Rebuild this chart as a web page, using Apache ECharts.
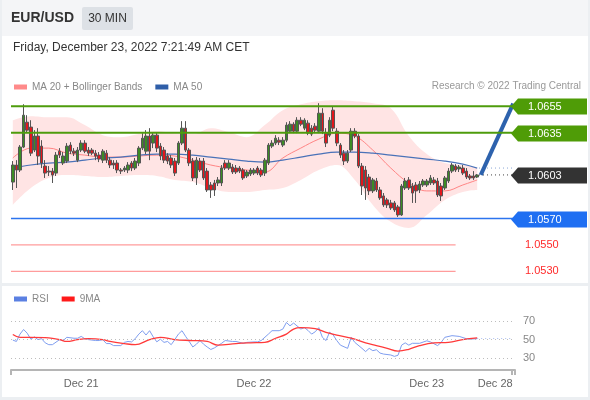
<!DOCTYPE html>
<html>
<head>
<meta charset="utf-8">
<script src="https://cdn.jsdelivr.net/npm/echarts@6/dist/echarts.min.js"></script>
<style>
  html, body { margin: 0; padding: 0; background: #fff; }
  #chart { width: 590px; height: 400px; }
</style>
</head>
<body>
<div id="chart"></div>
<script>
// 30 min candles, Dec 20 14:30 -> Dec 23 07:00  [open, close, low, high]
const candles = [
  [1.05976,1.06105,1.05916,1.06135],[1.06105,1.06067,1.05931,1.06142],[1.06067,1.06241,1.06052,1.06256],
  [1.06241,1.06482,1.06233,1.06565],[1.06429,1.06369,1.06354,1.06482],[1.06392,1.06195,1.06173,1.06444],
  [1.06218,1.06324,1.06203,1.06369],[1.06324,1.06173,1.06105,1.06384],[1.06248,1.06120,1.06082,1.06293],
  [1.06097,1.06044,1.06007,1.06142],[1.06059,1.06052,1.06022,1.06097],[1.06059,1.06029,1.05969,1.06082],
  [1.06044,1.06180,1.06022,1.06203],[1.06210,1.06180,1.06158,1.06233],[1.06120,1.06173,1.06105,1.06203],
  [1.06135,1.06248,1.06120,1.06271],[1.06256,1.06210,1.06188,1.06278],[1.06210,1.06195,1.06173,1.06233],
  [1.06142,1.06218,1.06127,1.06241],[1.06218,1.06271,1.06203,1.06293],[1.06271,1.06210,1.06195,1.06293],
  [1.06218,1.06195,1.06173,1.06241],[1.06218,1.06195,1.06180,1.06233],[1.06195,1.06173,1.06142,1.06218],
  [1.06180,1.06150,1.06127,1.06203],[1.06142,1.06210,1.06120,1.06225],[1.06195,1.06142,1.06120,1.06218],
  [1.06142,1.06105,1.06082,1.06165],[1.06120,1.06105,1.06075,1.06142],[1.06120,1.06067,1.06044,1.06142],
  [1.06067,1.06059,1.06037,1.06082],[1.06067,1.06082,1.06052,1.06097],[1.06067,1.06105,1.06044,1.06127],
  [1.06120,1.06082,1.06059,1.06135],[1.06082,1.06135,1.06067,1.06158],[1.06120,1.06233,1.06097,1.06248],
  [1.06233,1.06308,1.06218,1.06346],[1.06210,1.06324,1.06188,1.06369],[1.06324,1.06210,1.06142,1.06384],
  [1.06271,1.06331,1.06233,1.06354],[1.06331,1.06233,1.06203,1.06354],[1.06248,1.06173,1.06142,1.06271],
  [1.06218,1.06142,1.06120,1.06241],[1.06173,1.06135,1.06112,1.06195],[1.06158,1.06105,1.06082,1.06180],
  [1.06135,1.06044,1.06022,1.06158],[1.06120,1.06271,1.06105,1.06286],[1.06271,1.06384,1.06256,1.06437],
  [1.06384,1.06218,1.06203,1.06437],[1.06218,1.06120,1.06097,1.06233],[1.06135,1.06007,1.05984,1.06158],
  [1.06007,1.06142,1.05954,1.06165],[1.06135,1.06067,1.06052,1.06158],[1.06135,1.06007,1.05992,1.06158],
  [1.06059,1.05916,1.05901,1.06082],[1.05954,1.05916,1.05856,1.05976],[1.05969,1.05916,1.05871,1.05992],
  [1.05969,1.05992,1.05946,1.06014],[1.05969,1.06082,1.05946,1.06105],[1.06120,1.06082,1.06067,1.06142],
  [1.06082,1.06120,1.06067,1.06142],[1.06090,1.06052,1.06037,1.06112],[1.06082,1.06052,1.06037,1.06105],
  [1.06082,1.06059,1.06044,1.06097],[1.06067,1.06007,1.05992,1.06082],[1.06022,1.06052,1.06007,1.06067],
  [1.06037,1.06067,1.06022,1.06082],[1.06044,1.06067,1.06029,1.06082],[1.06082,1.06044,1.06029,1.06097],
  [1.06067,1.06029,1.06014,1.06082],[1.06044,1.06142,1.06022,1.06158],[1.06120,1.06256,1.06105,1.06271],
  [1.06248,1.06271,1.06233,1.06293],[1.06271,1.06308,1.06256,1.06331],[1.06293,1.06278,1.06256,1.06316],
  [1.06256,1.06293,1.06241,1.06316],[1.06293,1.06407,1.06278,1.06429],[1.06361,1.06414,1.06346,1.06437],
  [1.06414,1.06361,1.06346,1.06429],[1.06361,1.06444,1.06346,1.06467],[1.06444,1.06414,1.06399,1.06467],
  [1.06384,1.06444,1.06369,1.06459],[1.06422,1.06346,1.06331,1.06444],[1.06384,1.06339,1.06324,1.06407],
  [1.06399,1.06369,1.06346,1.06422],[1.06361,1.06497,1.06346,1.06573],[1.06497,1.06361,1.06339,1.06535],
  [1.06346,1.06271,1.06241,1.06384],[1.06331,1.06444,1.06316,1.06467],[1.06520,1.06384,1.06361,1.06550],
  [1.06361,1.06271,1.06248,1.06384],[1.06256,1.06180,1.06158,1.06271],[1.06195,1.06135,1.06105,1.06218],
  [1.06135,1.06195,1.06120,1.06218],[1.06218,1.06361,1.06203,1.06384],[1.06361,1.06324,1.06308,1.06384],
  [1.06324,1.06097,1.06082,1.06339],[1.06097,1.05946,1.05878,1.06120],[1.06067,1.05931,1.05841,1.06097],
  [1.06014,1.05909,1.05878,1.06037],[1.05909,1.05992,1.05893,1.06007],[1.05984,1.05916,1.05901,1.06007],
  [1.05916,1.05856,1.05841,1.05939],[1.05871,1.05803,1.05788,1.05893],[1.05841,1.05803,1.05780,1.05856],
  [1.05818,1.05780,1.05765,1.05841],[1.05818,1.05765,1.05750,1.05833],[1.05788,1.05727,1.05712,1.05803],
  [1.05727,1.05946,1.05720,1.05961],[1.05931,1.05984,1.05916,1.06007],[1.05992,1.05931,1.05916,1.06014],
  [1.05946,1.05893,1.05818,1.05969],[1.05954,1.05909,1.05818,1.05976],[1.05916,1.05961,1.05893,1.05984],
  [1.05954,1.05984,1.05939,1.05999],[1.05954,1.05984,1.05939,1.05999],[1.05969,1.06007,1.05954,1.06029],
  [1.05992,1.05969,1.05954,1.06014],[1.05984,1.05878,1.05863,1.06007],[1.05946,1.05871,1.05833,1.05969],
  [1.05931,1.06007,1.05916,1.06022],[1.05984,1.06059,1.05969,1.06082],[1.06059,1.06105,1.06044,1.06120],
  [1.06097,1.06067,1.06052,1.06112],[1.06075,1.06090,1.06052,1.06105],[1.06082,1.06044,1.06029,1.06105],
  [1.06059,1.06014,1.05999,1.06082],[1.06022,1.06007,1.05992,1.06037],[1.06022,1.06007,1.05992,1.06059],
  [1.06014,1.06030,1.06007,1.06037]
];

// indicator points (candle index -> value)
const bandIdx   = [0,5,10,15,20,25,30,35,40,45,50,55,60,65,70,75,80,85,90,95,100,105,110,115,120,125,129];
const bandUpper = [1.06444,1.06475,1.06467,1.06467,1.06407,1.06331,1.06316,1.06339,1.06361,1.06346,1.06339,1.06384,1.06354,
                   1.06316,1.06407,1.06520,1.06565,1.06588,1.06595,1.06588,1.06573,1.06535,1.06324,1.06188,1.06120,1.06105,1.06082];
const bandLower = [1.05803,1.05931,1.06007,1.06029,1.06022,1.06014,1.06022,1.06029,1.06022,1.05992,1.05976,1.05931,1.05901,
                   1.05901,1.05916,1.05931,1.05992,1.06067,1.06105,1.05992,1.05803,1.05675,1.05629,1.05727,1.05841,1.05901,1.05916];
const ma20 = [1.06158,1.06233,1.06233,1.06195,1.06180,1.06165,1.06165,1.06173,1.06180,1.06173,1.06142,1.06105,1.06082,1.06067,
              1.06052,1.06158,1.06233,1.06301,1.06346,1.06324,1.06218,1.06082,1.05969,1.05909,1.05909,1.05954,1.05992];
const ma50 = [1.06082,1.06105,1.06120,1.06127,1.06142,1.06158,1.06165,1.06180,1.06188,1.06188,1.06180,1.06165,1.06150,1.06135,
              1.06127,1.06142,1.06165,1.06188,1.06203,1.06203,1.06195,1.06180,1.06165,1.06150,1.06135,1.06112,1.06082];

const rsiIdx = [0,1,2,3,4,5,6,7,8,9,10,11,13,14,15,17,18,19,20,21,23,24,25,26,27,28,30,31,32,33,34,35,36,37,38,39,40,41,42,43,
  44,45,46,47,48,49,50,51,52,53,54,55,56,58,59,61,62,64,65,67,68,69,71,72,74,75,76,77,78,80,81,82,83,84,85,86,87,88,89,90,91,
  93,94,95,97,98,99,100,101,102,103,105,106,107,108,109,110,111,113,115,116,118,119,120,122,124,126,127,129];
const rsiVal = [49.5,48,56,61,57,50.5,53,50,51,46.5,44.5,44.5,50,49,52.5,51.5,51.5,53.5,51,50,49,49,50,45.7,45.7,43.5,43.5,47,48,
  47.5,51,56,59.7,55,59.7,53,47.6,50.5,47,48,44.5,50,56,59.7,53.5,48,42,45,49,45,42,39.3,41,46,49,48,48,46,47,47.5,47.5,49,56,
  59.7,59.7,61.4,68.6,65,68,61.5,63,60,56,58.5,63,52.5,49,58,55,49,44,40.5,52.5,47,40.5,37,40.5,38,39,35.4,34.3,33.3,31.8,33,
  44,46.5,44,46,46,48.7,47.5,43.5,47,52.5,54.3,53.5,51,50.5,51];
const ma9Idx = [0,2,5,10,13,15,18,21,25,27,31,34,38,41,45,50,54,57,62,66,70,73,76,78,80,84,87,90,94,98,101,104,107,110,113,117,121,125,129];
const ma9Val = [55.5,52.5,52.5,52,50,48,50,51,50,48,45.7,44.5,50,52.5,50,49,48,44,45.7,46.5,47,51.5,56,61.5,63,62,58,55,51.5,46.5,
  43.5,40.5,37.5,39.5,43.5,46.5,47,50,51.8];

const resistances = [1.0655, 1.0635];
const pivot = 1.0603;
const supports = [1.0570, 1.0550, 1.0530];
const target = 1.0657;
const rsiLevels = [70, 50, 30];

const slotCount = 140;
const xLabelIdx = [19, 67, 115, 134];
const xLabelText = ['Dec 21', 'Dec 22', 'Dec 23', 'Dec 28'];

const FONT = '"Liberation Sans", Arial, sans-serif';
const cats = Array.from({ length: slotCount }, (_, i) => 's' + i);
const pair = (idx, vals) => idx.map((x, i) => [x, vals[i]]);
const bandWidth = bandUpper.map((u, i) => +(u - bandLower[i]).toFixed(5));
const lastIdx = candles.length - 1;
const endIdx = slotCount - 1;
const leftEdge = -0.5, rightEdge = slotCount - 0.5;   // in slot units on the hidden value x axis
const weakEnd = 123;                                  // red support lines stop short of the tags

const chart = echarts.init(document.getElementById('chart'));

const baseGraphic = [
  { type: 'rect', z: -10, shape: { x: 0, y: 0, width: 590, height: 36 }, style: { fill: '#f4f5f7' } },
  { type: 'rect', z: -10, shape: { x: 0, y: 283, width: 590, height: 3 }, style: { fill: '#eceff2' } },
  { type: 'rect', z: -10, shape: { x: 0, y: 397, width: 590, height: 3 }, style: { fill: '#eceff2' } },
  { type: 'rect', z: -10, shape: { x: 0, y: 0, width: 2, height: 400 }, style: { fill: '#eceff2' } },
  { type: 'rect', z: -10, shape: { x: 588, y: 0, width: 2, height: 400 }, style: { fill: '#eceff2' } },
  { type: 'text', x: 11, y: 18, style: { text: 'EUR/USD', font: 'bold 14px ' + FONT, fill: '#333', verticalAlign: 'middle' } },
  { type: 'rect', shape: { x: 82, y: 7, width: 51, height: 23, r: 2 }, style: { fill: '#dde1e6' } },
  { type: 'text', x: 107.5, y: 19, style: { text: '30 MIN', font: '12px ' + FONT, fill: '#333', align: 'center', verticalAlign: 'middle' } },
  { type: 'text', x: 13, y: 48, style: { text: 'Friday, December 23, 2022 7:21:49 AM CET', font: '12px ' + FONT, fill: '#333', verticalAlign: 'middle' } },
  { type: 'text', x: 581, y: 86, style: { text: 'Research \u00a9 2022 Trading Central', font: '10px ' + FONT, fill: '#999', align: 'right', verticalAlign: 'middle' } }
];

const legendStyle = { icon: 'rect', itemWidth: 13, itemHeight: 5, itemGap: 13, selectedMode: false,
  textStyle: { color: '#888', fontSize: 10, fontFamily: FONT } };

// horizontal level lines, drawn as plain two-point lines on the hidden value x axis
const levelLine = (v, from, to, lineStyle, z) => ({
  type: 'line', xAxisIndex: 2, yAxisIndex: 0, data: [[from, v], [to, v]],
  symbol: 'none', silent: true, lineStyle, z
});

const option = {
  animation: false,
  backgroundColor: '#fff',
  textStyle: { fontFamily: FONT },
  graphic: baseGraphic,
  legend: [
    Object.assign({ left: 9, top: 77, data: ['MA 20 + Bollinger Bands', 'MA 50'] }, legendStyle),
    Object.assign({ left: 9, top: 289, data: ['RSI', '9MA'] }, legendStyle)
  ],
  grid: [
    { left: 11, right: 75, top: 93, height: 185 },
    { left: 11, right: 75, top: 312, height: 58 }
  ],
  xAxis: [
    { type: 'category', gridIndex: 0, data: cats, show: false },
    { type: 'category', gridIndex: 1, data: cats,
      axisLine: { lineStyle: { color: '#b5b5b5', width: 2 } },
      axisTick: { show: true, length: 5, interval: i => i === 0 || i === endIdx, lineStyle: { color: '#b5b5b5', width: 2 } },
      axisLabel: { interval: 0, color: '#666', fontSize: 11, margin: 8,
        formatter: (v, i) => { const k = xLabelIdx.indexOf(i); return k >= 0 ? xLabelText[k] : ''; } },
      splitLine: { show: false } },
    { type: 'value', gridIndex: 0, min: leftEdge, max: rightEdge, show: false, splitLine: { show: false } }
  ],
  yAxis: [
    { type: 'value', gridIndex: 0, min: 1.0525, max: 1.0665, show: false, splitLine: { show: false } },
    { type: 'value', gridIndex: 1, min: 17, max: 80, show: false, splitLine: { show: false } }
  ],
  series: [
    { type: 'line', data: pair(bandIdx, bandLower), stack: 'bb', symbol: 'none', smooth: 0.4,
      lineStyle: { width: 0, opacity: 0 }, silent: true, z: 1 },
    { type: 'line', data: pair(bandIdx, bandWidth), stack: 'bb', symbol: 'none', smooth: 0.4,
      lineStyle: { width: 0, opacity: 0 }, areaStyle: { color: '#ffe4e4', opacity: 1 }, silent: true, z: 1 },
    levelLine(supports[1], leftEdge, weakEnd, { color: '#ff9c9c', width: 1.2 }, 2),
    levelLine(supports[2], leftEdge, weakEnd, { color: '#ff9c9c', width: 1.2 }, 2),
    levelLine(supports[0], leftEdge, rightEdge, { color: '#2c74ee', width: 1.5 }, 2),
    levelLine(pivot, lastIdx + 0.5, rightEdge, { color: '#444', width: 1, type: [1, 3] }, 2),
    levelLine(ma50[ma50.length - 1], lastIdx + 0.5, rightEdge, { color: '#8aa6d6', width: 1, type: [1, 3] }, 2),
    { type: 'line', name: 'MA 20 + Bollinger Bands', data: pair(bandIdx, ma20), symbol: 'none', smooth: 0.4,
      itemStyle: { color: '#ff8a8a' }, lineStyle: { color: '#ff8585', width: 1 }, z: 3 },
    { type: 'line', name: 'MA 50', data: pair(bandIdx, ma50), symbol: 'none', smooth: 0.4,
      itemStyle: { color: '#2f5ea8' }, lineStyle: { color: '#4a72b8', width: 1.2 }, z: 3 },
    { type: 'candlestick', name: 'EURUSD', data: candles, barWidth: 3, z: 4,
      itemStyle: { color: '#3c8c24', color0: '#e3161c', borderColor: '#555', borderColor0: '#555', borderWidth: 1 } },
    levelLine(resistances[0], leftEdge, rightEdge, { color: '#4e9c0c', width: 2 }, 5),
    levelLine(resistances[1], leftEdge, rightEdge, { color: '#4e9c0c', width: 2 }, 5),
    { type: 'line', name: 'arrow', data: [], z: 6,
      markLine: { silent: true, symbol: ['none', 'arrow'], symbolSize: [0, 19], label: { show: false },
        lineStyle: { color: '#2d62ad', width: 4, type: 'solid' },
        data: [[{ coord: [lastIdx + 1, pivot] }, { coord: [endIdx, target] }]] } },
    { type: 'line', name: 'RSI', xAxisIndex: 1, yAxisIndex: 1, data: pair(rsiIdx, rsiVal), symbol: 'none',
      itemStyle: { color: '#5b80e2' }, lineStyle: { color: '#7f9ef0', width: 1 }, z: 3 },
    { type: 'line', name: 'rsiLevels', xAxisIndex: 1, yAxisIndex: 1, data: [], z: 2,
      markLine: { silent: true, symbol: 'none',
        lineStyle: { color: '#bdbdbd', width: 1, type: [1, 3] },
        label: { position: 'end', distance: 8, color: '#888', fontSize: 11, formatter: p => p.value },
        data: rsiLevels.map(v => ({ yAxis: v })) } },
    { type: 'line', name: 'rsiTail', xAxisIndex: 1, yAxisIndex: 1, data: [], z: 2,
      markLine: { silent: true, symbol: 'none', label: { show: false },
        lineStyle: { color: '#a9bdf2', width: 1, type: [1, 3] },
        data: [[{ coord: [lastIdx, rsiVal[rsiVal.length - 1]] }, { coord: [endIdx, rsiVal[rsiVal.length - 1]] }]] } },
    { type: 'line', name: '9MA', xAxisIndex: 1, yAxisIndex: 1, data: pair(ma9Idx, ma9Val), symbol: 'none', smooth: 0.4,
      itemStyle: { color: '#ff1a1a' }, lineStyle: { color: '#ff3a3a', width: 1.3 }, z: 4 }
  ]
};

chart.setOption(option);

// price tags at the right of the main panel
const tagEls = [];
const addTag = (v, fill) => {
  const y = Math.round(chart.convertToPixel({ yAxisIndex: 0 }, v)) + 0.5;
  tagEls.push({ type: 'polygon', z: 50, shape: { points: [[511, y], [518, y - 8], [587, y - 8], [587, y + 8], [518, y + 8]] }, style: { fill } });
  tagEls.push({ type: 'text', z: 51, x: 528, y: y, style: { text: v.toFixed(4), font: '11px ' + FONT, fill: '#fff', verticalAlign: 'middle' } });
};
resistances.forEach(v => addTag(v, '#4f9c07'));
addTag(pivot, '#333333');
addTag(supports[0], '#1f6ff2');
supports.slice(1).forEach(v => {
  const y = Math.round(chart.convertToPixel({ yAxisIndex: 0 }, v));
  tagEls.push({ type: 'text', z: 51, x: 525, y: y, style: { text: v.toFixed(4), font: '11px ' + FONT, fill: '#ff2a2a', verticalAlign: 'middle' } });
});
chart.setOption({ graphic: baseGraphic.concat(tagEls) });
</script>
</body>
</html>
